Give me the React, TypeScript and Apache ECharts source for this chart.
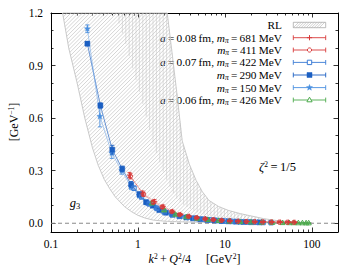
import React, { useEffect, useRef } from 'react';
import * as echarts from 'echarts';

const FONT = 'Liberation Serif';

const xTicks = [0.1, 1, 10, 100];
const xMinorTicks = [0.2, 0.3, 0.4, 0.5, 0.6, 0.7, 0.8, 0.9, 2, 3, 4, 5, 6, 7, 8, 9, 20, 30, 40, 50, 60, 70, 80, 90, 200];
const yTicks = [0, 0.3, 0.6, 0.9, 1.2];
const yMinorTicks = [0.1, 0.2, 0.4, 0.5, 0.7, 0.8, 1.0, 1.1];

// RL band
const bandX = [0.136, 0.16, 0.2, 0.245, 0.3, 0.35, 0.41, 0.47, 0.55, 0.7, 0.85, 1.0, 1.2, 1.5, 2.0, 2.17, 2.5, 2.79, 3.23, 3.88, 4.67, 5.5, 6.56, 8.5, 11, 15, 19, 28, 40, 60, 100];
const bandLow = [1.2, 1.0, 0.8, 0.6, 0.43, 0.33, 0.25, 0.2, 0.15, 0.095, 0.065, 0.045, 0.03, 0.018, 0.012, 0.011, 0.01, 0.009, 0.008, 0.007, 0.006, 0.0055, 0.005, 0.004, 0.0035, 0.003, 0.0025, 0.002, 0.0015, 0.001, 0.0];
const bandMid = [1.2, 1.2, 1.2, 1.2, 1.2, 1.2, 1.2, 1.2, 1.2, 1.05, 0.9, 0.78, 0.64, 0.45, 0.28, 0.24, 0.18, 0.14, 0.11, 0.085, 0.065, 0.052, 0.042, 0.031, 0.022, 0.016, 0.012, 0.008, 0.005, 0.003, 0.002];
const bandHigh = [1.2, 1.2, 1.2, 1.2, 1.2, 1.2, 1.2, 1.2, 1.2, 1.2, 1.2, 1.2, 1.2, 1.2, 1.2, 1.2, 0.95, 0.75, 0.47, 0.34, 0.244, 0.18, 0.13, 0.095, 0.073, 0.055, 0.044, 0.026, 0.015, 0.008, 0.003];

// a=0.08 fm, m_pi=681 MeV
const x681 = [0.8, 1.13, 1.55, 1.95, 2.5, 3.1, 3.9, 4.8, 6.0, 7.5, 9.3, 11.6, 14.4, 18, 22.4, 28, 35, 43.5, 54, 64];
const y681 = [0.275, 0.172, 0.125, 0.096, 0.068, 0.05, 0.04, 0.032, 0.026, 0.021, 0.017, 0.014, 0.012, 0.01, 0.009, 0.008, 0.007, 0.0065, 0.006, 0.0055];
const e681 = [0.015, 0.012, 0.01, 0.008, 0.007, 0.006, 0.005, 0.005, 0.004, 0.004, 0.004, 0.003, 0.003, 0.003, 0.003, 0.003, 0.003, 0.003, 0.003, 0.003];
// m_pi=411 MeV
const x411 = [0.82, 1.16, 1.5, 1.9, 2.45, 3.0, 3.8, 4.7, 5.9, 7.3, 9.1, 11.3, 14, 17.5, 21.8, 27, 34, 42, 52, 62];
const y411 = [0.268, 0.165, 0.12, 0.092, 0.066, 0.049, 0.039, 0.031, 0.025, 0.02, 0.016, 0.013, 0.011, 0.0095, 0.0085, 0.0075, 0.0068, 0.0062, 0.0057, 0.0052];
const e411 = [0.015, 0.012, 0.01, 0.008, 0.007, 0.006, 0.005, 0.005, 0.004, 0.004, 0.004, 0.003, 0.003, 0.003, 0.003, 0.003, 0.003, 0.003, 0.003, 0.003];
// a=0.07 fm, m_pi=422 MeV
const x422 = [0.9, 1.1, 1.35, 1.65, 2.0, 2.45, 3.0, 3.7, 4.5, 5.5, 6.7, 8.2, 10, 12.3, 15, 18.5, 22.5, 27.5, 34];
const y422 = [0.2, 0.15, 0.11, 0.085, 0.065, 0.052, 0.042, 0.034, 0.028, 0.023, 0.019, 0.015, 0.012, 0.01, 0.008, 0.0065, 0.005, 0.004, 0.003];
const e422 = [0.012, 0.01, 0.008, 0.007, 0.006, 0.005, 0.005, 0.004, 0.004, 0.003, 0.003, 0.003, 0.003, 0.003, 0.003, 0.003, 0.003, 0.003, 0.003];
// m_pi=290 MeV
const x290 = [0.262, 0.37, 0.507, 0.66, 0.836, 1.04, 1.24, 1.48, 1.76, 2.1, 2.5, 3.0, 3.6, 4.3, 5.2, 6.3, 7.6, 9.2, 11, 13.5, 16.5, 20, 25];
const y290 = [1.025, 0.672, 0.42, 0.31, 0.22, 0.165, 0.12, 0.1, 0.075, 0.06, 0.048, 0.04, 0.033, 0.028, 0.023, 0.019, 0.016, 0.013, 0.011, 0.009, 0.007, 0.006, 0.005];
const e290 = [0.012, 0.015, 0.025, 0.016, 0.018, 0.014, 0.012, 0.01, 0.008, 0.007, 0.006, 0.005, 0.005, 0.004, 0.004, 0.004, 0.003, 0.003, 0.003, 0.003, 0.003, 0.003, 0.003];
// m_pi=150 MeV
const x150 = [0.262, 0.365, 0.5, 0.65, 0.83, 1.03, 1.3, 1.6, 2.0, 2.5, 3.1, 3.9, 4.9, 6.1, 7.7, 9.6, 12, 15];
const y150 = [1.11, 0.61, 0.4, 0.3, 0.21, 0.16, 0.115, 0.09, 0.065, 0.05, 0.04, 0.032, 0.025, 0.02, 0.016, 0.012, 0.01, 0.008];
const e150 = [0.022, 0.06, 0.03, 0.02, 0.016, 0.014, 0.012, 0.01, 0.008, 0.007, 0.006, 0.005, 0.005, 0.004, 0.004, 0.004, 0.003, 0.003];
// a=0.06 fm, m_pi=426 MeV
const x426 = [1.45, 2.0, 2.7, 3.6, 4.8, 6.4, 8.5, 11.3, 15, 20, 26.5, 35, 46, 55, 62, 70, 78, 86, 92];
const y426 = [0.115, 0.075, 0.05, 0.036, 0.027, 0.02, 0.015, 0.011, 0.008, 0.006, 0.0045, 0.0035, 0.0025, 0.002, 0.0018, 0.0015, 0.0013, 0.0011, 0.001];
const e426 = [0.01, 0.007, 0.005, 0.004, 0.004, 0.003, 0.003, 0.003, 0.003, 0.002, 0.002, 0.002, 0.002, 0.002, 0.002, 0.002, 0.002, 0.002, 0.002];

const RED = '#d83a3a';
const BLUE1 = '#3a7bd5';
const BLUE2 = '#1b5fc2';
const BLUE3 = '#4a90e0';
const GREEN = '#4caa4c';

type Kind = 'plus' | 'circle' | 'square' | 'fsquare' | 'star' | 'triangle';

function markerEls(kind: Kind, cx: number, cy: number, color: string): any[] {
  const st = { stroke: color, lineWidth: 1, fill: 'none' };
  switch (kind) {
    case 'plus':
      return [
        { type: 'line', shape: { x1: cx - 2.6, y1: cy, x2: cx + 2.6, y2: cy }, style: { stroke: color, lineWidth: 1 } },
        { type: 'line', shape: { x1: cx, y1: cy - 2.6, x2: cx, y2: cy + 2.6 }, style: { stroke: color, lineWidth: 1 } },
      ];
    case 'circle':
      return [{ type: 'circle', shape: { cx, cy, r: 2.1 }, style: st }];
    case 'square':
      return [{ type: 'rect', shape: { x: cx - 2.2, y: cy - 2.2, width: 4.4, height: 4.4 }, style: st }];
    case 'fsquare':
      return [{ type: 'rect', shape: { x: cx - 2.5, y: cy - 2.5, width: 5, height: 5 }, style: { fill: color, stroke: color, lineWidth: 0.5 } }];
    case 'star': {
      const pts: number[][] = [];
      for (let i = 0; i < 10; i++) {
        const r = i % 2 === 0 ? 3.2 : 1.4;
        const a = -Math.PI / 2 + (i * Math.PI) / 5;
        pts.push([cx + r * Math.cos(a), cy + r * Math.sin(a)]);
      }
      return [{ type: 'polygon', shape: { points: pts }, style: { fill: color, stroke: color, lineWidth: 0.4 } }];
    }
    case 'triangle':
      return [{ type: 'polygon', shape: { points: [[cx, cy - 2.8], [cx - 2.6, cy + 1.8], [cx + 2.6, cy + 1.8]] }, style: st }];
  }
  return [];
}

function hatchPath(poly: number[][], nx: number, ny: number, spacing: number): string {
  const n = poly.length;
  const proj = poly.map((p) => p[0] * nx + p[1] * ny);
  const cmin = Math.min(...proj);
  const cmax = Math.max(...proj);
  let d = '';
  for (let c = Math.ceil(cmin / spacing) * spacing; c <= cmax; c += spacing) {
    const pts: number[][] = [];
    for (let i = 0; i < n; i++) {
      const j = (i + 1) % n;
      const da = proj[i] - c;
      const db = proj[j] - c;
      if (da < 0 !== db < 0) {
        const t = da / (da - db);
        const a = poly[i];
        const b = poly[j];
        pts.push([a[0] + t * (b[0] - a[0]), a[1] + t * (b[1] - a[1])]);
      }
    }
    pts.sort((p, q) => (p[1] * nx - p[0] * ny) - (q[1] * nx - q[0] * ny));
    for (let k = 0; k + 1 < pts.length; k += 2) {
      d += `M${pts[k][0].toFixed(2)} ${pts[k][1].toFixed(2)}L${pts[k + 1][0].toFixed(2)} ${pts[k + 1][1].toFixed(2)}`;
    }
  }
  return d;
}

function errSeries(xs: number[], ys: number[], es: number[], kind: Kind, color: string, z: number): any {
  return {
    type: 'custom',
    xAxisIndex: 0,
    yAxisIndex: 0,
    z,
    silent: true,
    data: xs.map((x, i) => [x, ys[i], es[i]]),
    encode: { x: 0, y: 1 },
    renderItem: (params: any, api: any) => {
      const x = api.value(0);
      const y = api.value(1);
      const e = api.value(2);
      const p = api.coord([x, y]);
      const t = api.coord([x, y + e]);
      const b = api.coord([x, y - e]);
      const ls = { stroke: color, lineWidth: 0.9 };
      return {
        type: 'group',
        children: [
          { type: 'line', shape: { x1: p[0], y1: t[1], x2: p[0], y2: b[1] }, style: ls },
          { type: 'line', shape: { x1: p[0] - 2, y1: t[1], x2: p[0] + 2, y2: t[1] }, style: ls },
          { type: 'line', shape: { x1: p[0] - 2, y1: b[1], x2: p[0] + 2, y2: b[1] }, style: ls },
          ...markerEls(kind, p[0], p[1], color),
        ],
      };
    },
  };
}

function lineSeries(xs: number[], ys: number[], color: string, type: any, z: number): any {
  return {
    type: 'line',
    xAxisIndex: 0,
    yAxisIndex: 0,
    z,
    silent: true,
    showSymbol: false,
    data: xs.map((x, i) => [x, ys[i]]),
    lineStyle: { color, width: 0.8, type, opacity: 0.8 },
  };
}

const baseAxisStyle = { color: '#000', width: 1 };

function makeXAxis(pos: 'bottom' | 'top', values: number[], len: number, labels: boolean, line: boolean): any {
  return {
    type: 'log',
    logBase: 10,
    min: 0.1,
    max: 200,
    position: pos,
    gridIndex: 0,
    axisLine: { show: line, onZero: false, lineStyle: baseAxisStyle },
    axisTick: { show: true, inside: true, length: len, customValues: values, lineStyle: { color: '#000', width: 0.8 } },
    axisLabel: labels
      ? {
          show: true,
          customValues: values,
          formatter: (v: number) => (v < 1 ? '0.1' : String(Math.round(v))),
          color: '#000',
          fontFamily: FONT,
          fontSize: 11.5,
          margin: 6,
        }
      : { show: false },
    splitLine: { show: false },
    minorTick: { show: false },
  };
}

function makeYAxis(pos: 'left' | 'right', values: number[], len: number, labels: boolean, line: boolean): any {
  return {
    type: 'value',
    min: -0.05,
    max: 1.2,
    position: pos,
    gridIndex: 0,
    axisLine: { show: line, onZero: false, lineStyle: baseAxisStyle },
    axisTick: { show: true, inside: true, length: len, customValues: values, lineStyle: { color: '#000', width: 0.8 } },
    axisLabel: labels
      ? {
          show: true,
          customValues: values,
          formatter: (v: number) => v.toFixed(1),
          color: '#000',
          fontFamily: FONT,
          fontSize: 11.5,
          margin: 8,
        }
      : { show: false },
    splitLine: { show: false },
  };
}

const legendRows: { text: string; kind: Kind | 'band'; color: string; y: number }[] = [
  { text: 'RL', kind: 'band', color: '#999', y: 25 },
  { text: '{i|a}\u2009=\u20090.08\u2009fm, {i|m}{s|π}\u2009=\u2009681\u2009MeV', kind: 'plus', color: RED, y: 37.7 },
  { text: '{i|m}{s|π}\u2009=\u2009411\u2009MeV', kind: 'circle', color: RED, y: 50 },
  { text: '{i|a}\u2009=\u20090.07\u2009fm, {i|m}{s|π}\u2009=\u2009422\u2009MeV', kind: 'square', color: BLUE1, y: 62.4 },
  { text: '{i|m}{s|π}\u2009=\u2009290\u2009MeV', kind: 'fsquare', color: BLUE2, y: 75 },
  { text: '{i|m}{s|π}\u2009=\u2009150\u2009MeV', kind: 'star', color: BLUE3, y: 87.6 },
  { text: '{i|a}\u2009=\u20090.06\u2009fm, {i|m}{s|π}\u2009=\u2009426\u2009MeV', kind: 'triangle', color: GREEN, y: 100 },
];

const richBase = {
  i: { fontStyle: 'italic', fontFamily: FONT, fontSize: 11.3, lineHeight: 13 },
  s: { fontStyle: 'italic', fontFamily: FONT, fontSize: 7.5, lineHeight: 7, verticalAlign: 'bottom' },
  u: { fontFamily: FONT, fontSize: 7.5, lineHeight: 7, verticalAlign: 'top' },
};

function buildLegend(): any[] {
  const els: any[] = [];
  const x0 = 293.3;
  const x1 = 325.7;
  const xc = (x0 + x1) / 2;
  legendRows.forEach((r) => {
    els.push({
      type: 'text',
      x: 282,
      y: r.y,
      silent: true,
      style: {
        text: r.text,
        fill: '#000',
        fontFamily: FONT,
        fontSize: 11.3,
        lineHeight: 13,
        align: 'right',
        verticalAlign: 'middle',
        rich: richBase,
      },
    });
    if (r.kind === 'band') {
      const h = 5.4;
      const yt = r.y - 2.7;
      els.push({ type: 'rect', silent: true, shape: { x: x0, y: yt, width: x1 - x0, height: h }, style: { fill: 'none', stroke: '#aaa', lineWidth: 0.8 } });
      for (let i = 0; i + h <= x1 - x0; i += 2.6) {
        els.push({ type: 'line', silent: true, shape: { x1: x0 + i, y1: yt + h, x2: x0 + i + h, y2: yt }, style: { stroke: '#b0b0b0', lineWidth: 0.6 } });
      }
    } else {
      const ls = { stroke: r.color, lineWidth: 0.9 };
      els.push({ type: 'line', silent: true, shape: { x1: x0, y1: r.y, x2: x1, y2: r.y }, style: ls });
      els.push({ type: 'line', silent: true, shape: { x1: x0, y1: r.y - 2.4, x2: x0, y2: r.y + 2.4 }, style: ls });
      els.push({ type: 'line', silent: true, shape: { x1: x1, y1: r.y - 2.4, x2: x1, y2: r.y + 2.4 }, style: ls });
      markerEls(r.kind as Kind, xc, r.y, r.color).forEach((m) => {
        if (m.style && m.style.fill === 'none') m.style = { ...m.style, fill: '#fff' };
        els.push({ ...m, silent: true });
      });
    }
  });
  return els;
}

export default function App() {
  const ref = useRef<HTMLDivElement>(null);
  useEffect(() => {
    if (!ref.current) return;
    const chart = echarts.init(ref.current, null, { renderer: 'svg' });
    const bandSeries = {
      type: 'custom',
      xAxisIndex: 0,
      yAxisIndex: 0,
      z: 1,
      silent: true,
      data: [[1, 0.5]],
      encode: { x: 0, y: 1 },
      renderItem: (params: any, api: any) => {
        const low = bandX.map((x, i) => api.coord([x, bandLow[i]]));
        const high = bandX.map((x, i) => api.coord([x, bandHigh[i]]));
        const mid = bandX.map((x, i) => api.coord([x, bandMid[i]]));
        const poly = [...low, ...high.slice().reverse()];
        const poly2 = [...mid, ...high.slice().reverse()];
        const s = Math.SQRT1_2;
        return {
          type: 'group',
          children: [
            { type: 'path', shape: { pathData: hatchPath(poly, s, s, 2.7) }, style: { fill: 'none', stroke: '#b8b8b8', lineWidth: 0.6 } },
            { type: 'path', shape: { pathData: hatchPath(poly2, 1, 0, 3.4) }, style: { fill: 'none', stroke: '#c6c6c6', lineWidth: 0.55 } },
            { type: 'polygon', shape: { points: poly }, style: { fill: 'none', stroke: '#c4c4c4', lineWidth: 0.9 } },
          ],
        };
      },
    };
    const zeroLine = {
      type: 'line',
      xAxisIndex: 0,
      yAxisIndex: 0,
      z: 2,
      silent: true,
      showSymbol: false,
      data: [[0.1, 0], [200, 0]],
      lineStyle: { color: '#888', width: 1, type: [4, 3] },
    };
    const option: any = {
      animation: false,
      backgroundColor: '#fff',
      grid: { left: 51, top: 13, right: 20, bottom: 37, containLabel: false },
      xAxis: [
        makeXAxis('bottom', xTicks, 4.5, true, true),
        makeXAxis('bottom', xMinorTicks, 2.5, false, false),
        makeXAxis('top', xTicks, 4.5, false, true),
        makeXAxis('top', xMinorTicks, 2.5, false, false),
      ],
      yAxis: [
        makeYAxis('left', yTicks, 4.5, true, true),
        makeYAxis('left', yMinorTicks, 2.5, false, false),
        makeYAxis('right', yTicks, 4.5, false, true),
        makeYAxis('right', yMinorTicks, 2.5, false, false),
      ],
      series: [
        bandSeries,
        zeroLine,
        lineSeries(x681, y681, RED, 'dotted', 3),
        lineSeries(x411, y411, RED, 'dotted', 3),
        lineSeries(x422, y422, BLUE1, 'dotted', 3),
        lineSeries(x290, y290, BLUE2, 'solid', 3),
        lineSeries(x150, y150, '#7fb0ea', 'solid', 3),
        lineSeries(x426, y426, GREEN, 'dotted', 3),
        errSeries(x150, y150, e150, 'star', BLUE3, 4),
        errSeries(x290, y290, e290, 'fsquare', BLUE2, 5),
        errSeries(x422, y422, e422, 'square', BLUE1, 6),
        errSeries(x426, y426, e426, 'triangle', GREEN, 7),
        errSeries(x411, y411, e411, 'circle', RED, 8),
        errSeries(x681, y681, e681, 'plus', RED, 9),
      ],
      graphic: [
        ...buildLegend(),
        {
          type: 'text',
          x: 14,
          y: 122,
          rotation: Math.PI / 2,
          silent: true,
          style: {
            text: '[GeV{u|−1}]',
            fill: '#000',
            fontFamily: FONT,
            fontSize: 12,
            lineHeight: 14,
            align: 'center',
            verticalAlign: 'middle',
            rich: richBase,
          },
        },
        {
          type: 'text',
          x: 194.5,
          y: 259,
          silent: true,
          style: {
            text: '{i|k}{u|2}\u2009+\u2009{i|Q}{u|2}/4     [GeV{u|2}]',
            fill: '#000',
            fontFamily: FONT,
            fontSize: 12,
            lineHeight: 14,
            align: 'center',
            verticalAlign: 'middle',
            rich: { ...richBase, i: { ...richBase.i, fontSize: 12, lineHeight: 14 } },
          },
        },
        {
          type: 'text',
          x: 277.5,
          y: 167,
          silent: true,
          style: {
            text: '{i|ζ}{u|2}\u2009=\u20091/5',
            fill: '#000',
            fontFamily: FONT,
            fontSize: 12.5,
            lineHeight: 14,
            align: 'center',
            verticalAlign: 'middle',
            rich: { ...richBase, i: { ...richBase.i, fontSize: 12.5, lineHeight: 14 } },
          },
        },
        {
          type: 'text',
          x: 75,
          y: 203,
          silent: true,
          style: {
            text: '{i|g}{d|3}',
            fill: '#000',
            fontFamily: FONT,
            fontSize: 12,
            lineHeight: 14,
            align: 'center',
            verticalAlign: 'middle',
            rich: {
              i: { fontStyle: 'italic', fontFamily: FONT, fontSize: 12.5, lineHeight: 14 },
              d: { fontFamily: FONT, fontSize: 8.5, lineHeight: 8, verticalAlign: 'bottom' },
            },
          },
        },
      ],
    };
    chart.setOption(option);
    return () => chart.dispose();
  }, []);
  return <div ref={ref} style={{ position: 'absolute', left: 0, top: 0, width: 358, height: 269 }} />;
}
